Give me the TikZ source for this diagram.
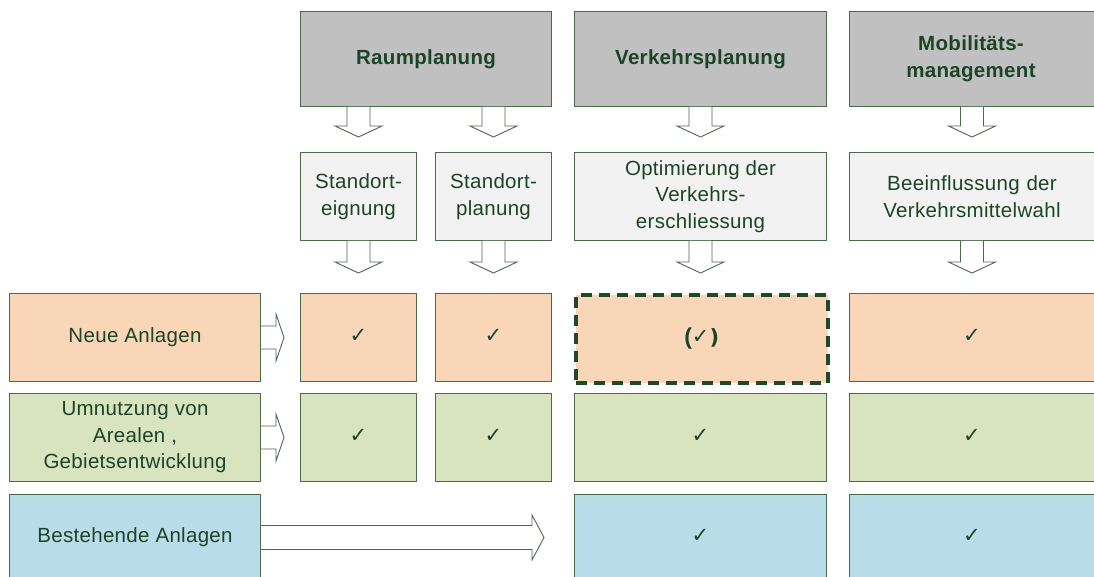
\documentclass[tikz,border=0pt]{standalone}
\usepackage{fontspec}
\usetikzlibrary{calc}
\setmainfont[LetterSpace=1.5]{Liberation Sans}
\newfontfamily\dejavu{DejaVu Sans}
\definecolor{bordc}{HTML}{4A6A4A}
\definecolor{txtc}{HTML}{1C4426}
\definecolor{headc}{HTML}{C0C0C0}
\definecolor{subc}{HTML}{F2F2F2}
\definecolor{peach}{HTML}{FAD6B9}
\definecolor{greenc}{HTML}{D8E4BF}
\definecolor{bluec}{HTML}{B8DDE8}
\definecolor{dashc}{HTML}{1E4A2A}
\tikzset{
  box/.style={draw=bordc, line width=1pt, text=txtc, align=center, inner sep=0pt, anchor=north west,
    font=\fontsize{20.5}{26.5}\selectfont},
  headbox/.style={box, fill=headc, font=\fontsize{20.5}{27}\selectfont\bfseries},
  subbox/.style={box, fill=subc},
  pbox/.style={box, fill=peach},
  gbox/.style={box, fill=greenc},
  bbox/.style={box, fill=bluec},
  chk/.style={font=\dejavu\fontsize{21}{21}\selectfont},
  arrowline/.style={draw=bordc, fill=white, line width=0.9pt, line join=miter},
  pics/downarr/.style={code={
    \draw[arrowline] (-11.5,0) -- (-11.5,{#1-11}) -- (-23.5,{#1-11}) -- (0,#1) -- (23.5,{#1-11}) -- (11.5,{#1-11}) -- (11.5,0);}},
  pics/rightarr/.style={code={
    \draw[arrowline] (0,-11.5) -- (15,-11.5) -- (15,-23.5) -- (23,0) -- (15,23.5) -- (15,11.5) -- (0,11.5);}},
}
\begin{document}
\begin{tikzpicture}[x=1pt,y=-1pt]
\useasboundingbox (0,0) rectangle (1094,577);
% headers
\node[headbox, minimum width=251pt, minimum height=95pt] (h1) at (300,11) {Raumplanung};
\node[headbox, minimum width=252pt, minimum height=95pt] (h2) at (574,11) {Verkehrsplanung};
\node[headbox, minimum width=260pt, minimum height=95pt, text width=250pt] (h3) at (849,11) {\hspace*{-17pt}Mobilitäts-\\\hspace*{-17pt}management};
% sub boxes
\node[subbox, minimum width=116pt, minimum height=88pt] (s1) at (300,152) {Standort-\\eignung};
\node[subbox, minimum width=116pt, minimum height=88pt] (s2) at (435,152) {Standort-\\planung};
\node[subbox, minimum width=252pt, minimum height=88pt] (s3) at (574,152) {Optimierung der\\Verkehrs-\\erschliessung};
\node[subbox, minimum width=260pt, minimum height=88pt, text width=250pt] (s4) at (849,152) {\hspace*{-15pt}Beeinflussung der\\\hspace*{-15pt}Verkehrsmittelwahl};
% row labels
\node[pbox, minimum width=251pt, minimum height=88pt] (r1) at (9,293) {Neue Anlagen};
\node[gbox, minimum width=251pt, minimum height=88pt] (r2) at (9,393) {Umnutzung von\\Arealen ,\\Gebietsentwicklung};
\node[bbox, minimum width=251pt, minimum height=86pt] (r3) at (9,494) {Bestehende Anlagen};
% row 1 cells
\node[pbox, minimum width=116pt, minimum height=88pt, chk] (c11) at (300,293) {\raisebox{3pt}{✓}};
\node[pbox, minimum width=116pt, minimum height=88pt, chk] (c12) at (435,293) {\raisebox{3pt}{✓}};
\node[pbox, minimum width=252pt, minimum height=88pt, draw=dashc, line width=3.5pt, dash pattern=on 11pt off 7pt, font=\fontsize{23}{23}\selectfont\bfseries] (c13) at (574,293) {(\dejavu\fontsize{21}{21}\selectfont\raisebox{1pt}{✓})};
\node[pbox, minimum width=260pt, minimum height=88pt, chk, text width=250pt] (c14) at (849,293) {\hspace*{-15pt}\raisebox{3pt}{✓}};
% row 2 cells
\node[gbox, minimum width=116pt, minimum height=88pt, chk] (c21) at (300,393) {\raisebox{3pt}{✓}};
\node[gbox, minimum width=116pt, minimum height=88pt, chk] (c22) at (435,393) {\raisebox{3pt}{✓}};
\node[gbox, minimum width=252pt, minimum height=88pt, chk] (c23) at (574,393) {\raisebox{3pt}{✓}};
\node[gbox, minimum width=260pt, minimum height=88pt, chk, text width=250pt] (c24) at (849,393) {\hspace*{-15pt}\raisebox{3pt}{✓}};
% row 3 cells
\node[bbox, minimum width=252pt, minimum height=86pt, chk] (c33) at (574,494) {\raisebox{3pt}{✓}};
\node[bbox, minimum width=260pt, minimum height=86pt, chk, text width=250pt] (c34) at (849,494) {\hspace*{-15pt}\raisebox{3pt}{✓}};
% down arrows
\pic at (h1.south -| s1.center) {downarr=30};
\pic at (h1.south -| s2.center) {downarr=30};
\pic at (h2.south -| s3.center) {downarr=30};
\pic at (h3.south -| 972,0) {downarr=30};
\pic at (s1.south) {downarr=32};
\pic at (s2.south) {downarr=32};
\pic at (s3.south) {downarr=32};
\pic at (s4.south -| 972,0) {downarr=32};
% right arrows
\pic at (r1.east) {rightarr};
\pic at (r2.east) {rightarr};
\coordinate (r3a) at (r3.east);
\draw[arrowline] ($(r3a)+(0,-12)$) -- ++(271,0) -- ++(0,-10.5) -- ++(12,22.5) -- ++(-12,22.5) -- ++(0,-10.5) -- ++(-271,0);
\end{tikzpicture}
\end{document}
